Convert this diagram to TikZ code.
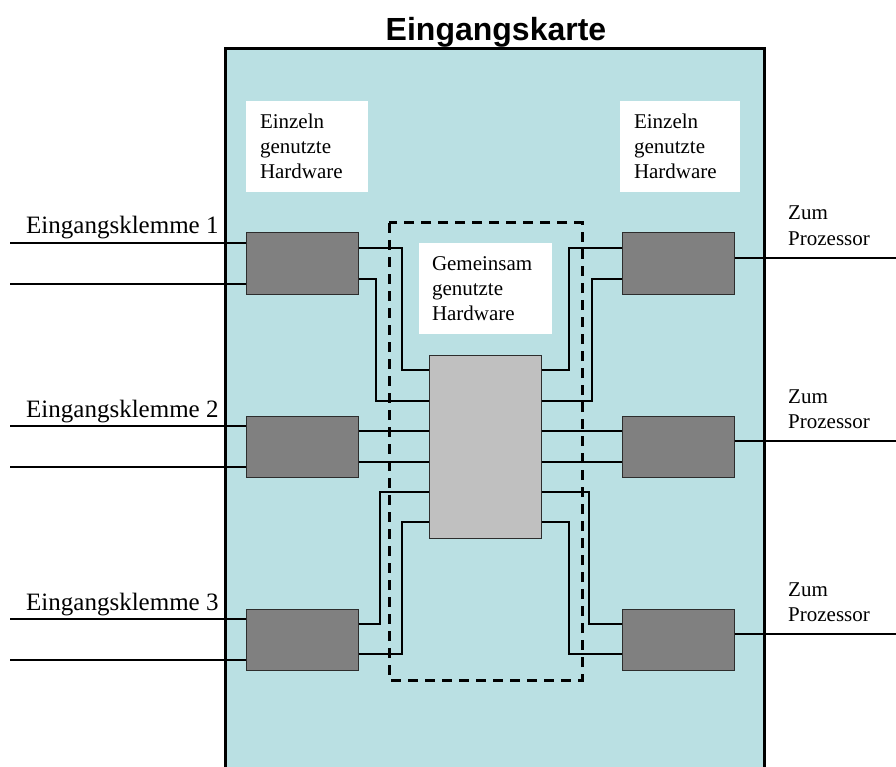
\documentclass[tikz,border=0pt]{standalone}
\usepackage{fontspec}
\setmainfont{Liberation Serif}
\newfontfamily\headfont{Liberation Sans}
\definecolor{cardfill}{RGB}{186,224,227}
\definecolor{unitgray}{RGB}{128,128,128}
\definecolor{coregray}{RGB}{192,192,192}
\definecolor{edgegray}{RGB}{45,45,45}
\begin{document}
\begin{tikzpicture}[x=1pt,y=-1pt,
  wire/.style={line width=1.3pt,draw=black},
  unit/.style={draw=edgegray,line width=1pt,fill=unitgray,minimum width=112pt,minimum height=61pt,inner sep=0pt},
  core/.style={draw=edgegray,line width=1pt,fill=coregray,minimum width=112pt,minimum height=183pt,inner sep=0pt},
  note/.style={fill=white,align=left,inner ysep=0pt,minimum height=91pt,font=\fontsize{21}{25}\selectfont},
  termlabel/.style={anchor=base west,inner sep=0pt,font=\fontsize{25}{30}\selectfont},
  cpulabel/.style={anchor=base west,inner sep=0pt,align=left,font=\fontsize{21}{25}\selectfont},
  grouping/.style={draw=black,line width=3pt,dash pattern=on 10pt off 7pt}]
\useasboundingbox (0,0) rectangle (896,767);

% card body
\fill[cardfill] (225,49) rectangle (764,767);
\draw[line width=3pt] (225,767) -- (225,49) -- (764,49) -- (764,767);
\node[anchor=base,inner sep=0pt,font=\headfont\bfseries\fontsize{32}{38}\selectfont] (title) at (496,41) {Eingangskarte};

% text boxes
\node[note,inner xsep=14pt,text width=94pt] (singleL) at (307,146.5) {Einzeln\\genutzte\\Hardware};
\node[note,inner xsep=14pt,text width=92pt] (singleR) at (680,146.5) {Einzeln\\genutzte\\Hardware};
\node[note,inner xsep=13pt,text width=107pt] (shared) at (485.5,288.5) {Gemeinsam\\genutzte\\Hardware};

% hardware blocks
\node[unit] (in1) at (302,263.5) {};
\node[unit] (in2) at (302,446.5) {};
\node[unit] (in3) at (302,639.5) {};
\node[unit] (out1) at (678,263.5) {};
\node[unit] (out2) at (678,446.5) {};
\node[unit] (out3) at (678,639.5) {};
\node[core] (cpu) at (485,446.5) {};

% terminal ends
\coordinate (t1a) at (10,243);
\coordinate (t1b) at (10,284);
\coordinate (t2a) at (10,426);
\coordinate (t2b) at (10,467);
\coordinate (t3a) at (10,619);
\coordinate (t3b) at (10,660);
\coordinate (p1) at (896,258);
\coordinate (p2) at (896,441);
\coordinate (p3) at (896,634);

% input terminals
\draw[wire] (t1a) -- (in1.west |- t1a);
\draw[wire] (t1b) -- (in1.west |- t1b);
\draw[wire] (t2a) -- (in2.west |- t2a);
\draw[wire] (t2b) -- (in2.west |- t2b);
\draw[wire] (t3a) -- (in3.west |- t3a);
\draw[wire] (t3b) -- (in3.west |- t3b);

% outputs to the processor
\draw[wire] (out1.east |- p1) -- (p1);
\draw[wire] (out2.east |- p2) -- (p2);
\draw[wire] (out3.east |- p3) -- (p3);

% input blocks to shared hardware
\draw[wire] (in1.east |- 0,248) -| (402,370) -- (cpu.west |- 0,370);
\draw[wire] (in1.east |- 0,279) -| (376,401) -- (cpu.west |- 0,401);
\draw[wire] (in2.east |- 0,431) -- (cpu.west |- 0,431);
\draw[wire] (in2.east |- 0,462) -- (cpu.west |- 0,462);
\draw[wire] (in3.east |- 0,624) -| (380,492) -- (cpu.west |- 0,492);
\draw[wire] (in3.east |- 0,654) -| (402,522) -- (cpu.west |- 0,522);

% shared hardware to output blocks
\draw[wire] (cpu.east |- 0,370) -| (569,248) -- (out1.west |- 0,248);
\draw[wire] (cpu.east |- 0,401) -| (592,279) -- (out1.west |- 0,279);
\draw[wire] (cpu.east |- 0,431) -- (out2.west |- 0,431);
\draw[wire] (cpu.east |- 0,462) -- (out2.west |- 0,462);
\draw[wire] (cpu.east |- 0,492) -| (589,624) -- (out3.west |- 0,624);
\draw[wire] (cpu.east |- 0,522) -| (569,654) -- (out3.west |- 0,654);

% shared hardware group, on top of the wiring
\draw[grouping] (389,223) rectangle (582,680);

% labels (multi-line labels sit on the baseline of their last line)
\node[termlabel] (k1) at (26,234) {Eingangsklemme 1};
\node[termlabel] (k2) at (26,417) {Eingangsklemme 2};
\node[termlabel] (k3) at (26,610) {Eingangsklemme 3};
\node[cpulabel] (z1) at (788,245) {Zum\\Prozessor};
\node[cpulabel] (z2) at (788,428) {Zum\\Prozessor};
\node[cpulabel] (z3) at (788,621) {Zum\\Prozessor};
\end{tikzpicture}
\end{document}
